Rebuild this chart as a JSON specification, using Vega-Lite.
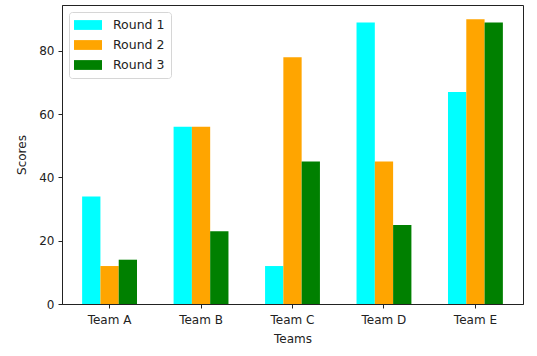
{
  "$schema": "https://vega.github.io/schema/vega-lite/v6.json",
  "width": 461,
  "height": 299,
  "autosize": "none",
  "padding": {"left": 62, "top": 5, "right": 14, "bottom": 52},
  "background": "white",
  "config": {
    "font": "DejaVu Sans",
    "view": {"stroke": "#222222", "strokeWidth": 1},
    "axis": {
      "domainColor": "#222222",
      "tickColor": "#222222",
      "tickSize": 4,
      "labelColor": "#222222",
      "titleColor": "#222222",
      "labelFontSize": 12,
      "titleFontSize": 12,
      "titleFontWeight": "normal",
      "grid": false
    }
  },
  "data": {
    "values": [
      {"Team": "Team A", "Round": "Round 1", "Score": 34},
      {"Team": "Team A", "Round": "Round 2", "Score": 12},
      {"Team": "Team A", "Round": "Round 3", "Score": 14},
      {"Team": "Team B", "Round": "Round 1", "Score": 56},
      {"Team": "Team B", "Round": "Round 2", "Score": 56},
      {"Team": "Team B", "Round": "Round 3", "Score": 23},
      {"Team": "Team C", "Round": "Round 1", "Score": 12},
      {"Team": "Team C", "Round": "Round 2", "Score": 78},
      {"Team": "Team C", "Round": "Round 3", "Score": 45},
      {"Team": "Team D", "Round": "Round 1", "Score": 89},
      {"Team": "Team D", "Round": "Round 2", "Score": 45},
      {"Team": "Team D", "Round": "Round 3", "Score": 25},
      {"Team": "Team E", "Round": "Round 1", "Score": 67},
      {"Team": "Team E", "Round": "Round 2", "Score": 90},
      {"Team": "Team E", "Round": "Round 3", "Score": 89}
    ]
  },
  "mark": {"type": "bar"},
  "encoding": {
    "x": {
      "field": "Team",
      "type": "nominal",
      "scale": {"paddingInner": 0.4, "paddingOuter": 0.22},
      "axis": {"title": "Teams", "labelAngle": 0, "labelPadding": 6, "titlePadding": 8}
    },
    "xOffset": {
      "field": "Round",
      "type": "nominal",
      "scale": {"paddingInner": 0, "paddingOuter": 0}
    },
    "y": {
      "field": "Score",
      "type": "quantitative",
      "scale": {"domain": [0, 94.5], "nice": false, "zero": true},
      "axis": {"values": [0, 20, 40, 60, 80], "title": "Scores", "labelPadding": 4, "titlePadding": 10}
    },
    "color": {
      "field": "Round",
      "type": "nominal",
      "scale": {"domain": ["Round 1", "Round 2", "Round 3"], "range": ["#00FFFF", "#FFA500", "#008000"]},
      "legend": {
        "title": null,
        "orient": "none",
        "legendX": 7,
        "legendY": 7,
        "fillColor": "white",
        "strokeColor": "#d6d6d6",
        "cornerRadius": 3,
        "padding": 6,
        "symbolType": "M-2,-0.7H2V0.7H-2Z",
        "symbolSize": 196,
        "symbolStrokeWidth": 0,
        "symbolOffset": 6,
        "labelFontSize": 12.5,
        "labelColor": "#222222",
        "labelOffset": 18,
        "rowPadding": 6
      }
    }
  }
}
